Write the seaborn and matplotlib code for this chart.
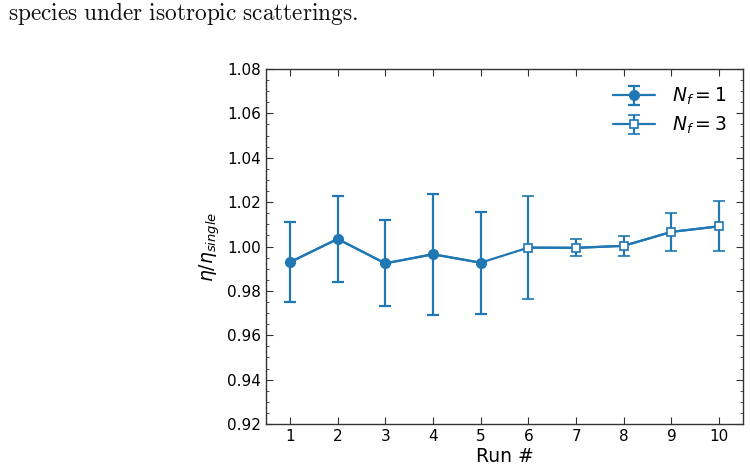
import matplotlib
matplotlib.use("Agg")
import matplotlib.pyplot as plt
from matplotlib.ticker import MultipleLocator
import seaborn as sns

# runs with a single flux tube
run_nf1 = [1, 2, 3, 4, 5]
eta_nf1 = [0.9929, 1.0034, 0.9924, 0.9965, 0.9927]
err_nf1 = [0.0180, 0.0195, 0.0194, 0.0273, 0.0230]

# runs with three flux tubes
run_nf3 = [6, 7, 8, 9, 10]
eta_nf3 = [0.9995, 0.9994, 1.0003, 1.0066, 1.0091]
err_nf3 = [0.0233, 0.0039, 0.0046, 0.0084, 0.0112]

run_ticks = list(range(1, 11))

sns.set_style("ticks")
plt.rcParams["font.family"] = ["DejaVu Sans"]
plt.rcParams["text.color"] = "black"
plt.rcParams["axes.labelcolor"] = "black"
plt.rcParams["xtick.labelcolor"] = "black"
plt.rcParams["ytick.labelcolor"] = "black"

fig = plt.figure(figsize=(7.5, 4.69), dpi=100)
ax = fig.add_axes([0.3547, 0.0959, 0.636, 0.757])

c = "#1f77b4"
# continuous line through all runs
sns.lineplot(x=run_nf1 + run_nf3, y=eta_nf1 + eta_nf3, color=c, lw=1.6, ax=ax,
             legend=False, sort=False)
ax.errorbar(run_nf1, eta_nf1, yerr=err_nf1, fmt="-o", color=c, ms=7, lw=1.6,
            capsize=4, capthick=1.6, elinewidth=1.6, label=r"$N_f = 1$")
ax.errorbar(run_nf3, eta_nf3, yerr=err_nf3, fmt="-s", color=c, ms=6, lw=1.6,
            mfc="white", mec=c, mew=1.2, capsize=4, capthick=1.6,
            elinewidth=1.6, label=r"$N_f = 3$")

ax.set_xlim(0.5, 10.5)
ax.set_ylim(0.92, 1.08)
ax.set_xticks(run_ticks)
ax.yaxis.set_major_locator(MultipleLocator(0.02))
ax.yaxis.set_minor_locator(MultipleLocator(0.005))
ax.yaxis.set_major_formatter(matplotlib.ticker.FormatStrFormatter("%.2f"))
ax.tick_params(which="both", direction="in", top=True, right=True,
               labelsize=11, color="#333333", labelcolor="black")
ax.tick_params(which="major", length=5)
ax.tick_params(which="minor", length=2.5)
for s in ax.spines.values():
    s.set_color("#333333")
    s.set_linewidth(1.0)

ax.set_xlabel("Run #", fontsize=13.5, labelpad=2, color="black")
ax.set_ylabel(r"$\eta/\eta_{single}$", fontsize=13.5, labelpad=4, color="black")

ax.legend(loc="upper right", frameon=False, fontsize=13.5, handlelength=2.2,
          borderaxespad=0.5, labelspacing=0.42, handletextpad=0.9,
          labelcolor="black")

fig.text(0.01, 0.972, r"$\mathrm{species\ under\ isotropic\ scatterings.}$",
         fontsize=16.8, math_fontfamily="cm", va="center", ha="left",
         color="#111111")

fig.savefig("out.png", dpi=100)
